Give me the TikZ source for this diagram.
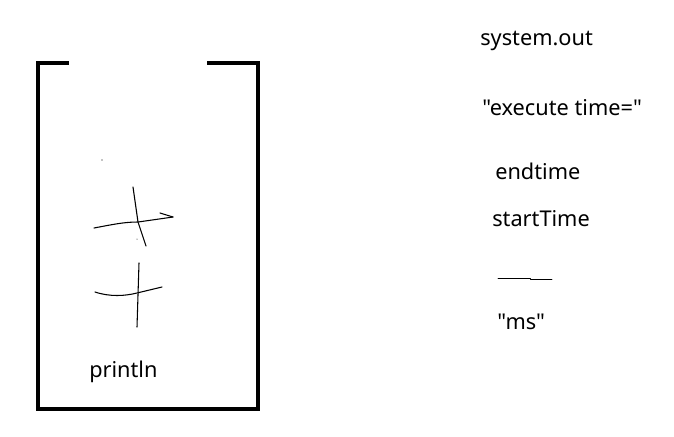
\documentclass[tikz,border=0pt]{standalone}
\usepackage{fontspec}
\setmainfont{Noto Sans}[Ligatures=TeXOff]
\usepackage{tikz}
\usetikzlibrary{positioning}
\tikzset{
  % --- stack frame -----------------------------------------------------------
  frame/.style={line width=3pt,line cap=rect,black},
  % --- freehand strokes ------------------------------------------------------
  scribble/.style={line width=0.8pt,black,line cap=round,line join=round},
  % --- labels ----------------------------------------------------------------
  lab/.style={anchor=west,inner sep=0pt,font=\fontsize{16.3}{19}\selectfont},
}
\begin{document}
\begin{tikzpicture}[x=0.75pt,y=-0.75pt]
  \useasboundingbox (0,0) rectangle (674,436);
  % open-topped container
  \draw[frame] (67,63) -- (38,63) -- (38,409) -- (258,409) -- (258,63) -- (209,63);
  % scribbles inside
  \fill (102,160) circle (0.6);
  \fill (137,239) circle (0.5);
  \draw[scribble] (133,187) -- (138,222) -- (146,246);
  \draw[scribble] (94,228) .. controls (115,224) and (125,222) .. (138,222) -- (173,217);
  \draw[scribble] (160,213) -- (173,217);
  \draw[scribble] (139,263) -- (137,327);
  \draw[scribble] (95,292) .. controls (110,297) and (125,296) .. (137,293) -- (162,287);
  \node[lab] (pl) at (89,372) {println};
  % operands
  \node[lab] (so) at (480,41) {system.out};
  \node[lab] (ex) at (482,108) {"execute time="};
  \node[lab] (et) at (495,171) {endtime};
  \node[lab] (st) at (492,219) {startTime};
  \draw[scribble,line width=0.6pt] (498,278) -- (530,278) -- (530,279.3) -- (552,279.3);
  \node[lab] (ms) at (497,322) {"ms"};
\end{tikzpicture}
\end{document}
